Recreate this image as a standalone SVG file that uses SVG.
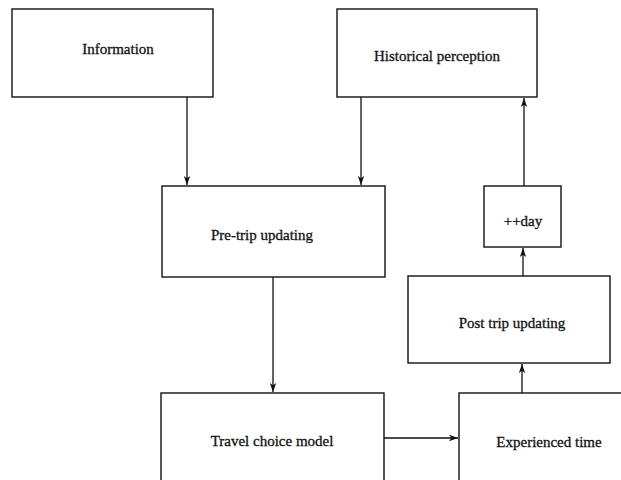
<svg xmlns="http://www.w3.org/2000/svg" width="621" height="480" viewBox="0 0 621 480">
  <style>
    .box { fill: #ffffff; stroke: #111111; stroke-width: 1.4; }
    .lbl { font-family: "Liberation Serif", "DejaVu Serif", serif; font-size: 15px; fill: #111111; stroke: #111111; stroke-width: 0.3; text-anchor: middle; }
    .edge { fill: none; stroke: #111111; stroke-width: 1.3; marker-end: url(#arrow); }
  </style>
  <defs>
    <marker id="arrow" viewBox="0 0 10 10" refX="10" refY="5" markerWidth="9" markerHeight="9" markerUnits="userSpaceOnUse" orient="auto">
      <path d="M0,1.5 L10,5 L0,8.5 L2.5,5 Z" fill="#111111"/>
    </marker>
  </defs>
  <rect width="621" height="480" fill="#ffffff"/>

  <g id="connectors">
    <path class="edge" d="M187,97 V185"/>
    <path class="edge" d="M361,97 V185"/>
    <path class="edge" d="M273,277 V392"/>
    <path class="edge" d="M384,438 H458"/>
    <path class="edge" d="M522,393 V364"/>
    <path class="edge" d="M523,276 V248"/>
    <path class="edge" d="M524,186 V98"/>
  </g>

  <g id="information">
    <rect class="box" x="12" y="9" width="201" height="88"/>
    <text class="lbl" x="118" y="54">Information</text>
  </g>
  <g id="historical-perception">
    <rect class="box" x="337" y="9" width="200" height="88"/>
    <text class="lbl" x="437" y="61">Historical perception</text>
  </g>
  <g id="pre-trip-updating">
    <rect class="box" x="162" y="186" width="223" height="91"/>
    <text class="lbl" x="262" y="240">Pre-trip updating</text>
  </g>
  <g id="day">
    <rect class="box" x="484" y="186" width="77" height="61"/>
    <text class="lbl" x="523" y="226">++day</text>
  </g>
  <g id="post-trip-updating">
    <rect class="box" x="408" y="276" width="202" height="87"/>
    <text class="lbl" x="512" y="328">Post trip updating</text>
  </g>
  <g id="travel-choice-model">
    <rect class="box" x="161" y="393" width="223" height="100"/>
    <text class="lbl" x="272" y="446">Travel choice model</text>
  </g>
  <g id="experienced-time">
    <rect class="box" x="459" y="393" width="180" height="100"/>
    <text class="lbl" x="549" y="447">Experienced time</text>
  </g>
</svg>
